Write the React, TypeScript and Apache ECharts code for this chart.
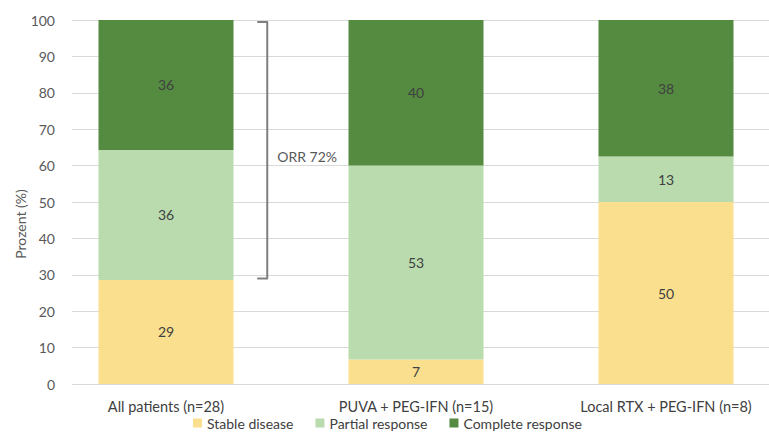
import React, { useEffect, useRef } from "react";
import * as echarts from "echarts";

const categories = ["All patients (n=28)", "PUVA + PEG-IFN (n=15)", "Local RTX + PEG-IFN (n=8)"];
const stableDisease = [28.6, 6.7, 50];
const partialResponse = [35.7, 53.3, 12.5];
const completeResponse = [35.7, 40, 37.5];
const seriesNames = ["Stable disease", "Partial response", "Complete response"];
const yTicks = [0, 10, 20, 30, 40, 50, 60, 70, 80, 90, 100];
const bracketFrom = 29;
const bracketTo = 100;
const orrLabel = "ORR 72%";

const FONT = "Lato, 'Open Sans', sans-serif";
const COLORS = ["#F9DF8E", "#B9DBAE", "#548B40"];

export default function App() {
  const ref = useRef<HTMLDivElement>(null);
  useEffect(() => {
    if (!ref.current) return;
    const chart = echarts.init(ref.current, null, { renderer: "svg" });
    const labelCfg = {
      show: true,
      position: "inside",
      color: "#404040",
      fontSize: 14,
      fontFamily: FONT,
      formatter: (p: any) => String(Math.round(p.value)),
    };
    const mk = (name: string, data: number[], i: number) => ({
      name,
      type: "bar",
      stack: "total",
      xAxisIndex: 0,
      yAxisIndex: 0,
      data,
      barCategoryGap: "46%",
      itemStyle: { color: COLORS[i] },
      label: labelCfg,
    });
    chart.setOption({
      animation: false,
      textStyle: { fontFamily: FONT },
      grid: [
        { left: 41, top: 20, width: 750, bottom: 49, outerBoundsMode: "none", containLabel: false },
        { left: 72, top: 20, right: 0, bottom: 49, outerBoundsMode: "none", containLabel: false },
      ],
      xAxis: [
        {
          type: "category",
          gridIndex: 0,
          data: categories,
          axisLine: { show: false },
          axisTick: { show: false },
          axisLabel: { color: "#404040", fontSize: 14.5, fontFamily: FONT, margin: 15 },
        },
        { type: "value", gridIndex: 1, show: false, min: 0, max: 1 },
      ],
      yAxis: [
        { type: "value", gridIndex: 0, min: 0, max: 100, show: false },
        {
          type: "value",
          gridIndex: 1,
          min: yTicks[0],
          max: yTicks[yTicks.length - 1],
          interval: 10,
          axisLine: { show: false },
          axisTick: { show: false },
          axisLabel: { color: "#595959", fontSize: 14, fontFamily: FONT, margin: 17 },
          splitLine: { lineStyle: { color: "#D9D9D9", width: 1 } },
        },
      ],
      legend: {
        data: seriesNames,
        left: 188,
        top: 411,
        itemWidth: 9,
        itemHeight: 9,
        itemGap: 22,
        icon: "rect",
        textStyle: { color: "#404040", fontSize: 14, fontFamily: FONT },
      },
      series: [
        mk(seriesNames[0], stableDisease, 0),
        mk(seriesNames[1], partialResponse, 1),
        mk(seriesNames[2], completeResponse, 2),
      ],
    });

    const x0 = chart.convertToPixel({ xAxisIndex: 0 }, 0) as number;
    const x1 = chart.convertToPixel({ xAxisIndex: 0 }, 1) as number;
    const bx = x0 + (x1 - x0) * 0.405;
    const yTop = chart.convertToPixel({ yAxisIndex: 0 }, bracketTo) as number;
    const yBot = chart.convertToPixel({ yAxisIndex: 0 }, bracketFrom) as number;
    const yMid = chart.convertToPixel({ yAxisIndex: 0 }, 62.5) as number;
    const yGridTop = chart.convertToPixel({ yAxisIndex: 0 }, 100) as number;
    const yGridBot = chart.convertToPixel({ yAxisIndex: 0 }, 0) as number;

    chart.setOption({
      graphic: [
        {
          type: "polyline",
          shape: {
            points: [
              [bx - 10, yTop + 2],
              [bx, yTop + 2],
              [bx, yBot],
              [bx - 10, yBot],
            ],
          },
          style: { stroke: "#7F7F7F", lineWidth: 2, fill: null, lineJoin: "round" },
        },
        {
          type: "text",
          x: bx + 10,
          y: yMid,
          style: {
            text: orrLabel,
            fill: "#595959",
            fontSize: 14,
            fontFamily: FONT,
            verticalAlign: "middle",
            align: "left",
          },
        },
        {
          type: "text",
          x: 20,
          y: (yGridTop + yGridBot) / 2 + 22,
          rotation: Math.PI / 2,
          style: {
            text: "Prozent (%)",
            fill: "#595959",
            fontSize: 14,
            fontFamily: FONT,
            align: "center",
            verticalAlign: "middle",
          },
        },
      ],
    });

    return () => chart.dispose();
  }, []);
  return (
    <div
      ref={ref}
      style={{ position: "fixed", left: 0, top: 0, width: 769, height: 433, background: "#fff" }}
    />
  );
}
